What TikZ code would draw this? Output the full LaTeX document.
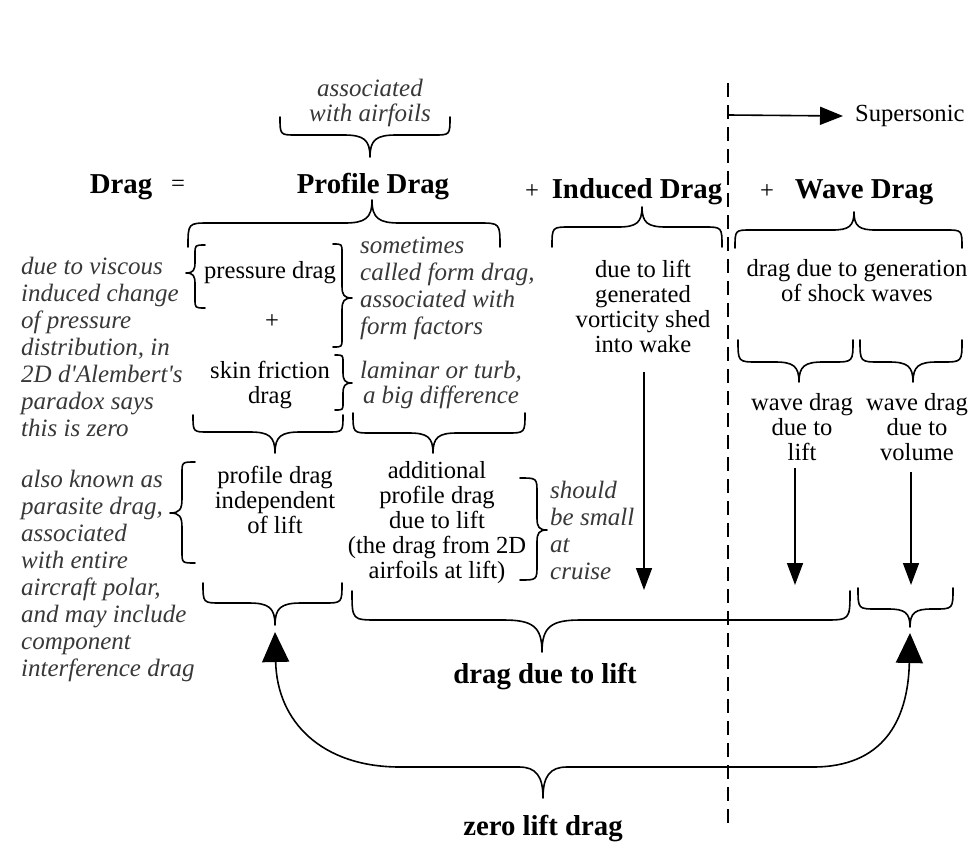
\documentclass[tikz,border=0pt]{standalone}
\usepackage{fontspec}
\setmainfont{Liberation Serif}
\usetikzlibrary{arrows.meta}
\tikzset{
  every node/.style={inner sep=0pt, text=black},
  rm/.style={font=\fontsize{24.6}{25}\selectfont, align=center},
  itl/.style={font=\fontsize{25}{27}\selectfont\itshape, text=black!78, align=left, anchor=west},
  itc/.style={font=\fontsize{25}{25}\selectfont\itshape, text=black!78, align=center},
  hd/.style={font=\fontsize{28.8}{30}\selectfont\bfseries},
  brace/.style={line width=1.6pt, line cap=round, line join=round},
  arr/.style={line width=1.6pt, -{Triangle[length=22pt,width=16pt]}},
  bigtip/.style={{Triangle[length=30pt,width=27pt]}-{Triangle[length=30pt,width=27pt]}},
}
% horizontal brace: x1 x2 xtip yend yhoriz ytip
\newcommand{\hbr}[6]{%
  \pgfmathsetmacro\brA{#1+0.9*abs(#5-#4)}%
  \pgfmathsetmacro\brAA{#2-0.9*abs(#5-#4)}%
  \pgfmathsetmacro\brB{#3-1.2*abs(#6-#5)}%
  \pgfmathsetmacro\brBB{#3+1.2*abs(#6-#5)}%
  \pgfmathsetmacro\brC{#3-0.3*abs(#6-#5)}%
  \pgfmathsetmacro\brCC{#3+0.3*abs(#6-#5)}%
  \pgfmathsetmacro\brD{#5+0.2*(#6-#5)}%
  \draw[brace] (#1,#4) .. controls (#1,#5) and (#1,#5) .. (\brA,#5)
    -- (\brB,#5) .. controls (\brC,#5) and (#3,\brD) .. (#3,#6)
    .. controls (#3,\brD) and (\brCC,#5) .. (\brBB,#5)
    -- (\brAA,#5) .. controls (#2,#5) and (#2,#5) .. (#2,#4);}
% vertical brace: y1 y2 ytip xend xvert xtip
\newcommand{\vbr}[6]{%
  \pgfmathsetmacro\brA{#1+0.9*abs(#5-#4)}%
  \pgfmathsetmacro\brAA{#2-0.9*abs(#5-#4)}%
  \pgfmathsetmacro\brB{#3-1.2*abs(#6-#5)}%
  \pgfmathsetmacro\brBB{#3+1.2*abs(#6-#5)}%
  \pgfmathsetmacro\brC{#3-0.3*abs(#6-#5)}%
  \pgfmathsetmacro\brCC{#3+0.3*abs(#6-#5)}%
  \pgfmathsetmacro\brD{#5+0.2*(#6-#5)}%
  \draw[brace] (#4,#1) .. controls (#5,#1) and (#5,#1) .. (#5,\brA)
    -- (#5,\brB) .. controls (#5,\brC) and (\brD,#3) .. (#6,#3)
    .. controls (\brD,#3) and (#5,\brCC) .. (#5,\brBB)
    -- (#5,\brAA) .. controls (#5,#2) and (#5,#2) .. (#4,#2);}
\begin{document}
\begin{tikzpicture}[x=1pt,y=-1pt]
\useasboundingbox[fill=white] (0,0) rectangle (974,860);

% headings
\node[itc] (assoc) at (370,103) {associated\\with airfoils};
\node[hd] (drag) at (121,187) {Drag};
\node[rm] (eq) at (178,186) {=};
\node[hd] (profile) at (373,187) {Profile Drag};
\node[rm] (plusA) at (532,192) {+};
\node[hd] (induced) at (637,192) {Induced Drag};
\node[rm] (plusB) at (767,192) {+};
\node[hd] (wave) at (864,192) {Wave Drag};
\node[rm, anchor=west] (supersonic) at (855,116) {Supersonic};

% supersonic divider
\coordinate (dtop) at (728,83);
\coordinate (dbot) at (728,827);
\draw[line width=2.4pt, dash pattern=on 14pt off 8pt] (dtop) -- (dbot);
\coordinate (ssstart) at (729,115);
\draw[arr, -{Triangle[length=23pt,width=18pt]}] (ssstart) -- ([xshift=-12pt]supersonic.west);

% left column
\node[itl] (viscous) at (21,347) {due to viscous\\induced change\\of pressure\\distribution, in\\2D d\textquotesingle Alembert\textquotesingle s\\paradox says\\this is zero};
\node[rm] (pressure) at (270,273) {pressure drag};
\node[rm] (plusC) at (272,322) {+};
\node[rm] (skin) at (270,385) {skin friction\\drag};
\node[itl] (sometimes) at (360,288) {sometimes\\called form drag,\\associated with\\form factors};
\node[itc] (laminar) at (441,385) {laminar or turb,\\a big difference};

\node[itl] (parasite) at (21,576) {also known as\\parasite drag,\\associated\\with entire\\aircraft polar,\\and may include\\component\\interference drag};
\node[rm] (pdind) at (275,500) {profile drag\\independent\\of lift};
\node[rm] (addl) at (437,523) {additional\\profile drag\\due to lift\\(the drag from 2D\\airfoils at lift)};
\node[itl] (should) at (550,530) {should\\be small\\at\\cruise};

% induced / wave
\node[rm] (vort) at (643,306) {due to lift\\generated\\vorticity shed\\into wake};
\node[rm] (shock) at (857,281) {drag due to generation\\of shock waves};
\node[rm] (wdl) at (802,427) {wave drag\\due to\\lift};
\node[rm] (wdv) at (917,427) {wave drag\\due to\\volume};

\node[hd] (dlift) at (545,677) {drag due to lift};
\node[hd] (zlift) at (543,829) {zero lift drag};

% arrows down
\coordinate (vortend) at (644,590);
\coordinate (wdlend) at (795,585);
\coordinate (wdvend) at (911,585);
\coordinate (vortstart) at (644,372);
\coordinate (wdlstart) at (795,468);
\coordinate (wdvstart) at (911,472);
\draw[arr] (vortstart) -- (vortend);
\draw[arr] (wdlstart) -- (wdlend);
\draw[arr] (wdvstart) -- (wdvend);

% horizontal braces
\hbr{280}{450}{370}{117}{135}{157}
\hbr{188}{500}{372}{247}{223}{200}
\hbr{552}{722}{642}{247}{227}{207}
\hbr{735}{962}{854}{248}{230}{212}
\hbr{738}{853}{799}{340}{362}{382}
\hbr{860}{962}{913}{340}{362}{382}
\hbr{193}{343}{275}{415}{432}{453}
\hbr{353}{525}{433}{413}{433}{453}
\hbr{203}{342}{275}{583}{603}{625}
\hbr{352}{850}{542}{591}{620}{652}
\hbr{858}{953}{910}{588}{609}{627}

% vertical braces
\vbr{245}{308}{273}{205}{195}{186}
\vbr{244}{347}{298}{333}{342}{352}
\vbr{355}{410}{383}{335}{343}{352}
\vbr{462}{563}{513}{195}{182}{170}
\vbr{478}{580}{530}{520}{537}{547}

% zero lift drag brace with arrows
\coordinate (zll) at (275,632);
\coordinate (zlr) at (910,633);
\draw[brace, bigtip] (zll) .. controls (277,722) and (322,767) .. (400,767)
  -- (519,767) .. controls (536,767) and (543,776) .. (543,798)
  .. controls (543,776) and (550,767) .. (567,767)
  -- (813,767) .. controls (882,767) and (908,722) .. (zlr);
\end{tikzpicture}
\end{document}
